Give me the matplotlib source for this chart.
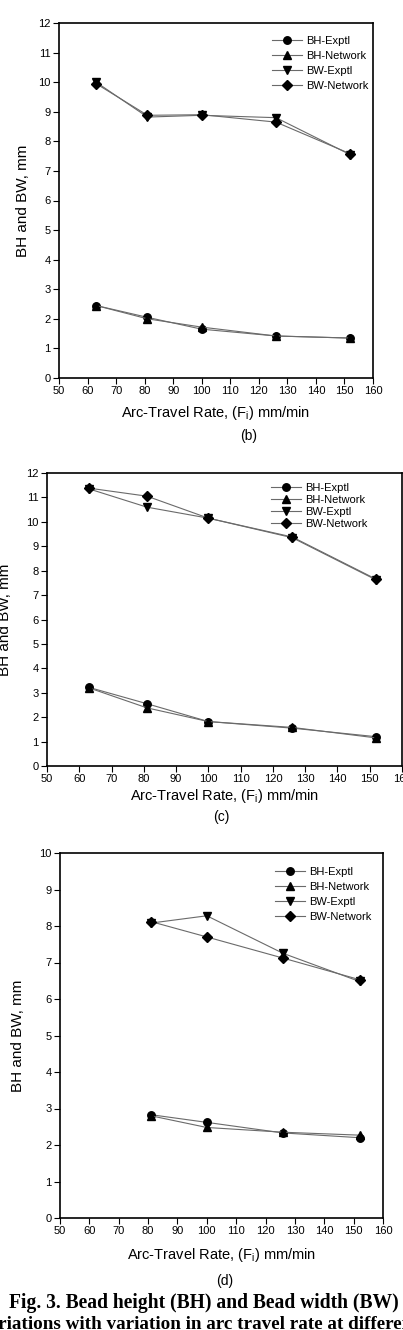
import matplotlib

matplotlib.use("Agg")
import matplotlib.pyplot as plt

plt.rcParams["font.family"] = ["Liberation Sans", "DejaVu Sans"]
plt.rcParams["mathtext.fontset"] = "custom"
plt.rcParams["mathtext.rm"] = "Liberation Sans"
plt.rcParams["mathtext.it"] = "Liberation Sans"

# panel (b)
rate_b = [63, 81, 100, 126, 152]
bh_exp_b = [2.45, 2.05, 1.65, 1.42, 1.35]
bh_net_b = [2.45, 2.00, 1.72, 1.42, 1.35]
bw_exp_b = [10.00, 8.82, 8.88, 8.80, 7.55]
bw_net_b = [9.95, 8.88, 8.90, 8.65, 7.58]

# panel (c)
rate_c = [63, 81, 100, 126, 152]
bh_exp_c = [3.22, 2.55, 1.82, 1.55, 1.20]
bh_net_c = [3.20, 2.38, 1.82, 1.58, 1.15]
bw_exp_c = [11.35, 10.60, 10.15, 9.35, 7.62]
bw_net_c = [11.38, 11.05, 10.15, 9.38, 7.65]

# panel (d)
rate_d = [81, 100, 126, 152]
bh_exp_d = [2.83, 2.62, 2.33, 2.20]
bh_net_d = [2.80, 2.48, 2.35, 2.27]
bw_exp_d = [8.08, 8.28, 7.25, 6.48]
bw_net_d = [8.12, 7.70, 7.12, 6.53]

series_names = ["BH-Exptl", "BH-Network", "BW-Exptl", "BW-Network"]
markers = ["o", "^", "v", "D"]
x_ticks = list(range(50, 161, 10))

W, H = 403, 1330
fig = plt.figure(figsize=(W / 100, H / 100), dpi=100)


def px_axes(left, top, right, bottom):
    return fig.add_axes([left / W, 1 - bottom / H, (right - left) / W, (bottom - top) / H])


def draw_panel(box, x, ys, ymax, letter, letter_xy, ylab_x, xlab_y, leg_xy, leg_space):
    ax = px_axes(*box)
    for y, name, mk in zip(ys, series_names, markers):
        ms = 4.8 if mk == "D" else 5.4
        ax.plot(x, y, color="#6a6a6a", lw=0.8, marker=mk, ms=ms,
                mfc="black", mec="black", label=name)
    ax.set_xlim(50, 160)
    ax.set_ylim(0, ymax)
    ax.set_xticks(x_ticks)
    ax.set_yticks(range(0, ymax + 1))
    ax.tick_params(direction="out", length=4, width=0.8, labelsize=8, pad=2)
    for s in ax.spines.values():
        s.set_linewidth(1.2)
    left, top, right, bottom = box
    ax.set_ylabel("BH and BW, mm", fontsize=11, va="center")
    ax.yaxis.set_label_coords((ylab_x - left) / (right - left), 0.5)
    ax.set_xlabel("Arc-Travel Rate, (F$_{\\mathrm{i}}$) mm/min", fontsize=10.5, va="center")
    ax.xaxis.set_label_coords(0.5, (bottom - xlab_y) / (bottom - top))
    lx, ly = leg_xy
    ax.legend(loc="upper left", bbox_to_anchor=((lx - left) / (right - left), (bottom - ly) / (bottom - top)),
              frameon=False, fontsize=8, handlelength=2.7, handletextpad=0.4,
              labelspacing=leg_space, borderpad=0, borderaxespad=0)
    fig.text(letter_xy[0] / W, 1 - letter_xy[1] / H, letter, fontsize=10,
             ha="center", va="center")
    return ax


draw_panel((59, 23, 373, 378), rate_b, [bh_exp_b, bh_net_b, bw_exp_b, bw_net_b], 12,
           "(b)", (249, 436), 23, 413, (272, 36), 0.45)
draw_panel((47, 473, 402, 766), rate_c, [bh_exp_c, bh_net_c, bw_exp_c, bw_net_c], 12,
           "(c)", (221, 817), 5, 796, (271, 483), 0.18)
draw_panel((60, 853, 383, 1218), rate_d, [bh_exp_d, bh_net_d, bw_exp_d, bw_net_d], 10,
           "(d)", (225, 1281), 18, 1255, (275, 867), 0.45)

fig.text(204 / W, 1 - 1303 / H, "Fig. 3. Bead height (BH) and Bead width (BW)",
         family="Liberation Serif", weight="bold", fontsize=14.1, ha="center", va="center")
fig.text(-21 / W, 1 - 1316 / H, "variations with variation in arc travel rate at different",
         family="Liberation Serif", weight="bold", fontsize=13.8, ha="left", va="top")

fig.savefig("out.png", dpi=100)
